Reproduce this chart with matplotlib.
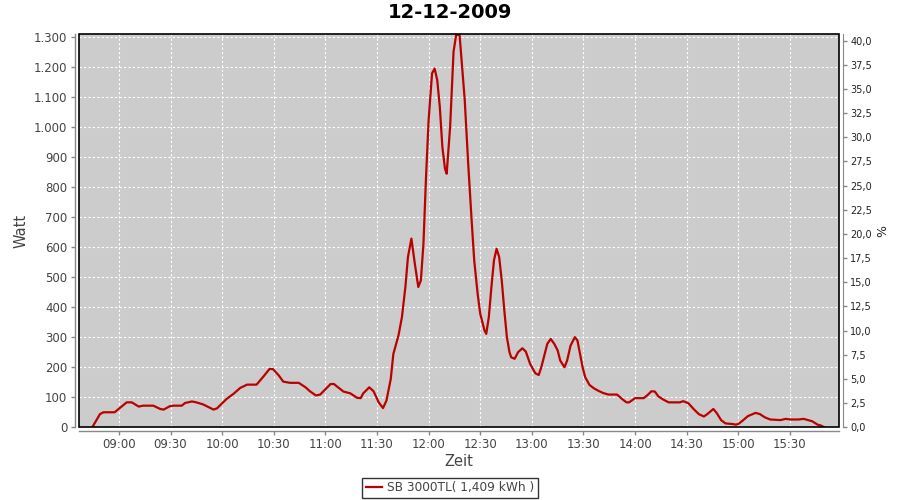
import matplotlib
matplotlib.use("Agg")
import matplotlib.pyplot as plt
import matplotlib.dates as mdates
from matplotlib.patches import Rectangle
from matplotlib.ticker import FuncFormatter, MultipleLocator
import pandas as pd

title = "12-12-2009"
series_label = "SB 3000TL( 1,409 kWh )"

times = [
    "08:44:30", "08:49:00", "08:51:00", "08:57:30", "09:04:30", "09:07:30", "09:11:30", "09:14:00",
    "09:20:00", "09:24:00", "09:26:00", "09:29:30", "09:31:30", "09:36:30", "09:38:30", "09:42:30",
    "09:45:00", "09:49:00", "09:55:00", "09:57:00", "10:02:30", "10:06:30", "10:10:30", "10:14:30",
    "10:20:00", "10:24:00", "10:27:30", "10:29:30", "10:33:00", "10:35:30", "10:39:30", "10:44:30",
    "10:48:30", "10:51:00", "10:54:30", "10:57:00", "11:03:00", "11:05:00", "11:06:30", "11:10:30",
    "11:14:30", "11:18:30", "11:20:30", "11:22:00", "11:25:30", "11:28:00", "11:31:00", "11:33:30",
    "11:35:30", "11:38:00", "11:39:30", "11:42:30", "11:44:30", "11:46:30", "11:48:00", "11:50:00",
    "11:52:00", "11:54:00", "11:55:30", "11:57:00", "11:58:30", "12:00:00", "12:02:00", "12:03:30",
    "12:05:00", "12:06:30", "12:08:00", "12:09:30", "12:10:30", "12:12:30", "12:14:30", "12:16:00",
    "12:18:00", "12:19:00", "12:21:00", "12:23:00", "12:25:00", "12:26:30", "12:28:30", "12:30:00",
    "12:32:30", "12:33:30", "12:35:00", "12:36:30", "12:38:00", "12:39:30", "12:41:00", "12:42:30",
    "12:44:00", "12:45:30", "12:47:00", "12:48:00", "12:50:00", "12:52:00", "12:54:30", "12:56:30",
    "12:59:00", "13:02:00", "13:04:00", "13:05:30", "13:07:30", "13:09:00", "13:11:00", "13:13:00",
    "13:15:00", "13:16:30", "13:19:00", "13:20:30", "13:22:30", "13:25:00", "13:26:30", "13:28:00",
    "13:29:30", "13:31:00", "13:33:30", "13:36:00", "13:38:30", "13:41:30", "13:44:30", "13:49:30",
    "13:52:30", "13:55:00", "13:56:30", "14:00:00", "14:05:00", "14:07:00", "14:09:30", "14:11:30",
    "14:13:30", "14:16:30", "14:19:30", "14:26:00", "14:28:00", "14:31:00", "14:34:00", "14:37:00",
    "14:40:00", "14:42:00", "14:45:30", "14:47:30", "14:50:00", "14:52:30", "14:56:30", "14:58:30",
    "15:00:00", "15:02:30", "15:05:30", "15:10:00", "15:12:30", "15:15:30", "15:18:30", "15:24:30",
    "15:27:30", "15:30:30", "15:35:00", "15:38:00", "15:43:00", "15:46:00", "15:48:00", "15:50:00",
]
watts = [
    0, 44, 50, 50, 83, 83, 69, 72,
    72, 61, 59, 70, 72, 72, 81, 86,
    83, 76, 59, 63, 94, 111, 131, 142,
    142, 169, 194, 194, 172, 152, 148, 148,
    133, 120, 106, 109, 144, 144, 137, 119,
    113, 98, 97, 113, 133, 120, 83, 64,
    89, 161, 244, 306, 367, 467, 567, 628,
    544, 467, 489, 611, 833, 1022, 1178, 1194,
    1156, 1067, 933, 861, 844, 1000, 1250, 1306,
    1306, 1233, 1089, 878, 689, 556, 444, 378,
    322, 311, 367, 467, 556, 594, 567, 489,
    389, 300, 250, 233, 228, 250, 263, 252,
    211, 180, 174, 200, 244, 278, 294, 278,
    256, 222, 200, 222, 272, 300, 289, 244,
    200, 167, 141, 130, 122, 114, 109, 109,
    94, 83, 83, 97, 97, 106, 120, 119,
    103, 92, 83, 83, 87, 80, 61, 44,
    36, 44, 61, 47, 24, 13, 11, 9,
    11, 22, 37, 48, 44, 33, 26, 24,
    28, 26, 26, 28, 20, 9, 6, 0,
]

x_ticks = ["09:00", "09:30", "10:00", "10:30", "11:00", "11:30", "12:00",
           "12:30", "13:00", "13:30", "14:00", "14:30", "15:00", "15:30"]

day = "2009-12-12 "
t = pd.to_datetime([day + s for s in times])
tick_pos = pd.to_datetime([day + s for s in x_ticks])

fig = plt.figure(figsize=(9, 5), dpi=100)
fig.patch.set_facecolor("white")
W, H = 900, 500
l, r, top, bot = 79, 839.3, 34.3, 427.3
ax = fig.add_axes([l / W, 1 - bot / H, (r - l) / W, (bot - top) / H])
ax.set_facecolor("#cccccc")

txt = "#444444"
axc = "#888888"

ax.plot(t, watts, color="#bb0000", lw=1.6, solid_joinstyle="round", zorder=3)

ax.set_xlim(pd.Timestamp(day + "08:36:48"), pd.Timestamp(day + "15:58:42"))
ax.set_ylim(0, 1308)
ax.set_xticks(tick_pos)
ax.xaxis.set_major_formatter(mdates.DateFormatter("%H:%M"))
ax.yaxis.set_major_locator(MultipleLocator(100))
ax.yaxis.set_major_formatter(FuncFormatter(lambda v, p: f"{int(round(v)):,}".replace(",", ".")))

ax.grid(True, color="white", lw=0.8, linestyle=(0, (2, 2)))
ax.set_axisbelow(True)

for s in ["left", "bottom"]:
    ax.spines[s].set_position(("outward", 2.9))
    ax.spines[s].set_color(axc)
    ax.spines[s].set_linewidth(1.0)
ax.spines["right"].set_visible(False)
ax.spines["top"].set_visible(False)
ax.add_patch(Rectangle((0, 0), 1, 1, transform=ax.transAxes, fill=False,
                       edgecolor="black", lw=1.2, zorder=5, clip_on=False))

ax.tick_params(axis="both", colors=axc, labelcolor=txt, labelsize=8.5, length=3, width=1)
ax.tick_params(axis="x", pad=2)
ax.tick_params(axis="y", pad=2.5)

ax2 = ax.twinx()
ax2.set_ylim(0, 40.65)
ax2.yaxis.set_major_locator(MultipleLocator(2.5))
ax2.yaxis.set_major_formatter(FuncFormatter(lambda v, p: f"{v:.1f}".replace(".", ",")))
for s in ["left", "top", "bottom"]:
    ax2.spines[s].set_visible(False)
ax2.spines["right"].set_position(("outward", 2.9))
ax2.spines["right"].set_color(axc)
ax2.tick_params(axis="y", colors=axc, labelcolor="#222222", labelsize=7, length=3, width=1, pad=2)

ax.set_xlabel("Zeit", fontsize=10.5, color=txt, labelpad=2)
ax.set_ylabel("Watt", fontsize=10.5, color=txt, labelpad=4)
ax2.set_ylabel("%", fontsize=9, color="#222222", labelpad=3)

fig.text(450 / W, 1 - 13 / H, title, ha="center", va="center", fontsize=14, fontweight="bold", color="black")

leg = fig.legend([ax.lines[0]], [series_label], loc="center", bbox_to_anchor=(450 / W, 1 - 487.8 / H),
                 frameon=True, fancybox=False, edgecolor="black", fontsize=8.7, handlelength=1.4,
                 handletextpad=0.4, borderpad=0.3, labelcolor=txt)
leg.get_frame().set_linewidth(1.0)

fig.savefig("out.png", dpi=100, facecolor="white")
